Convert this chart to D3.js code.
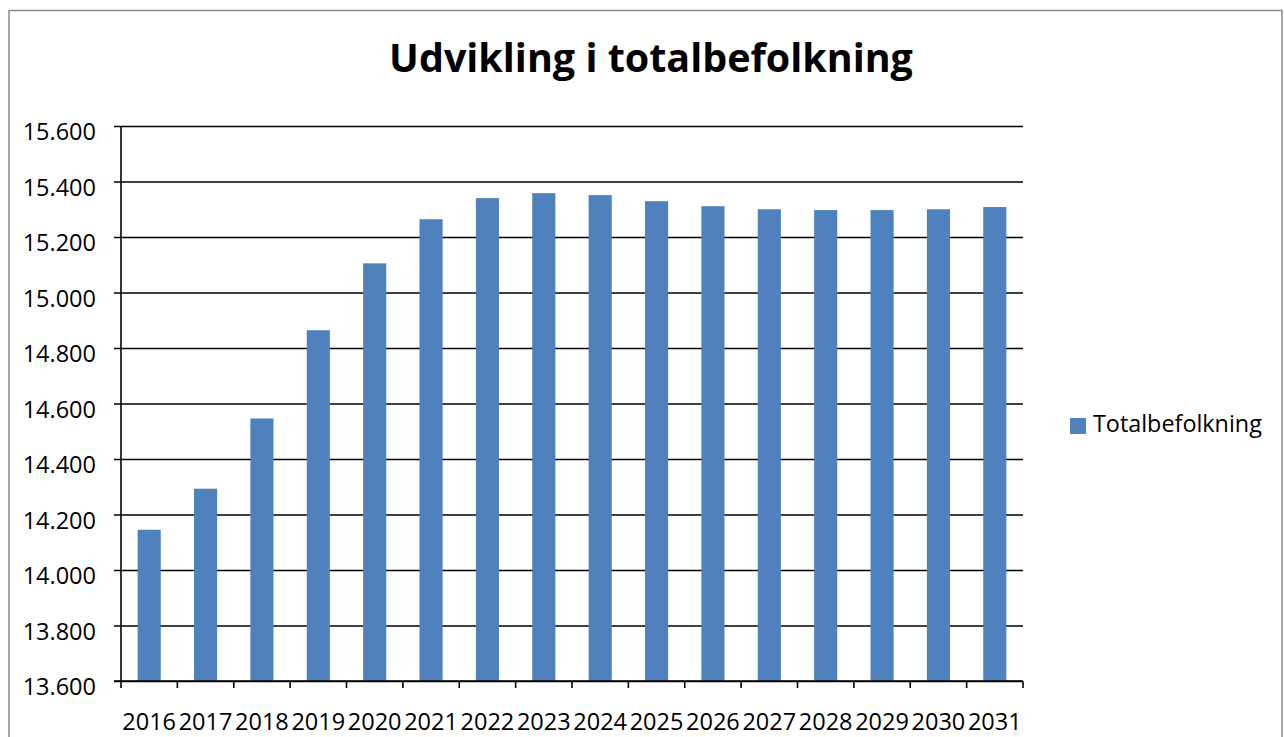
<!DOCTYPE html>
<html>
<head>
<meta charset="utf-8">
<script src="https://cdn.jsdelivr.net/npm/d3@7"></script>
<style>
  html, body { margin: 0; padding: 0; background: #fff; }
  svg { display: block; }
  text { font-family: "Open Sans", "Liberation Sans", sans-serif; fill: #000; }
</style>
</head>
<body>
<svg id="chart" width="1284" height="737"></svg>
<script>
const title = "Udvikling i totalbefolkning";
const seriesName = "Totalbefolkning";
const years = ["2016","2017","2018","2019","2020","2021","2022","2023","2024","2025","2026","2027","2028","2029","2030","2031"];
const values = [14145, 14293, 14546, 14864, 15105, 15264, 15340, 15358, 15351, 15329, 15311, 15300, 15297, 15297, 15300, 15308];
const yTicks = [13600, 13800, 14000, 14200, 14400, 14600, 14800, 15000, 15200, 15400, 15600];

(function () {
const svg = d3.select("#chart");
const pL = 121, pR = 1023, pT = 126, pB = 681;
const barColor = "#4F81BD";

const locale = d3.formatLocale({decimal: ",", thousands: ".", grouping: [3], currency: ["", ""]});
const fmt = locale.format(",d");

// outer frame
svg.append("rect").attr("x", 9).attr("y", 10.5).attr("width", 1273).attr("height", 800)
  .attr("fill", "#fff").attr("stroke", "#8c8c8c").attr("stroke-width", 1.5);

const x = d3.scaleBand().domain(years).range([pL, pR]).paddingInner(0.59).paddingOuter(0.295);
const y = d3.scaleLinear().domain([13600, 15600]).range([pB, pT]);

// gridlines + y axis
const yAxis = d3.axisLeft(y).tickValues(yTicks).tickFormat(fmt).tickSizeInner(-(pR - pL)).tickSizeOuter(0).tickPadding(0);
const gy = svg.append("g").attr("transform", `translate(${pL},0)`).call(yAxis);
gy.select(".domain").remove();
gy.selectAll(".tick line").attr("x1", -7).attr("x2", pR - pL).attr("stroke", "#000").attr("stroke-width", 1.6);
gy.selectAll(".tick text").attr("x", -25).attr("dy", null).attr("y", 13.5)
  .style("font-size", "23.5px").style("font-family", "'Open Sans', sans-serif").attr("fill", "#000");

// bars
svg.append("g").selectAll("rect").data(years).join("rect")
  .attr("x", (d) => x(d))
  .attr("width", x.bandwidth())
  .attr("y", (d, i) => y(values[i]))
  .attr("height", (d, i) => pB - y(values[i]))
  .attr("fill", barColor);

// y axis line
svg.append("line").attr("x1", pL).attr("x2", pL).attr("y1", pT).attr("y2", pB)
  .attr("stroke", "#000").attr("stroke-width", 1.6);

// x axis
const step = x.step();
const gx = svg.append("g").attr("transform", `translate(0,${pB})`)
  .call(d3.axisBottom(x).tickSize(0).tickPadding(0));
gx.select(".domain").attr("stroke", "#000").attr("stroke-width", 1.6).attr("d", `M${pL - 7},0H${pR}`);
gx.selectAll(".tick text").attr("y", 49).attr("dy", null)
  .style("font-size", "23.5px").style("font-family", "'Open Sans', sans-serif").attr("fill", "#000");
const bounds = d3.range(years.length + 1).map(i => pL + i * step);
gx.selectAll("line.bt").data(bounds).join("line").attr("class", "bt")
  .attr("x1", d => d).attr("x2", d => d).attr("y1", 0).attr("y2", 7)
  .attr("stroke", "#000").attr("stroke-width", 1.6);

// title
const t = svg.append("text").text(title).attr("x", 651).attr("y", 72)
  .attr("text-anchor", "middle").style("font-weight", "bold").style("font-size", "40px");
const tw = t.node().getComputedTextLength();
t.style("font-size", (40 * 524 / tw) + "px");

// legend
svg.append("rect").attr("x", 1070).attr("y", 418).attr("width", 16).attr("height", 16).attr("fill", barColor);
const lt = svg.append("text").text(seriesName).attr("x", 1093).attr("y", 432).style("font-size", "22px");
const lw = lt.node().getComputedTextLength();
lt.style("font-size", (22 * 169 / lw) + "px");
})();
</script>
</body>
</html>
